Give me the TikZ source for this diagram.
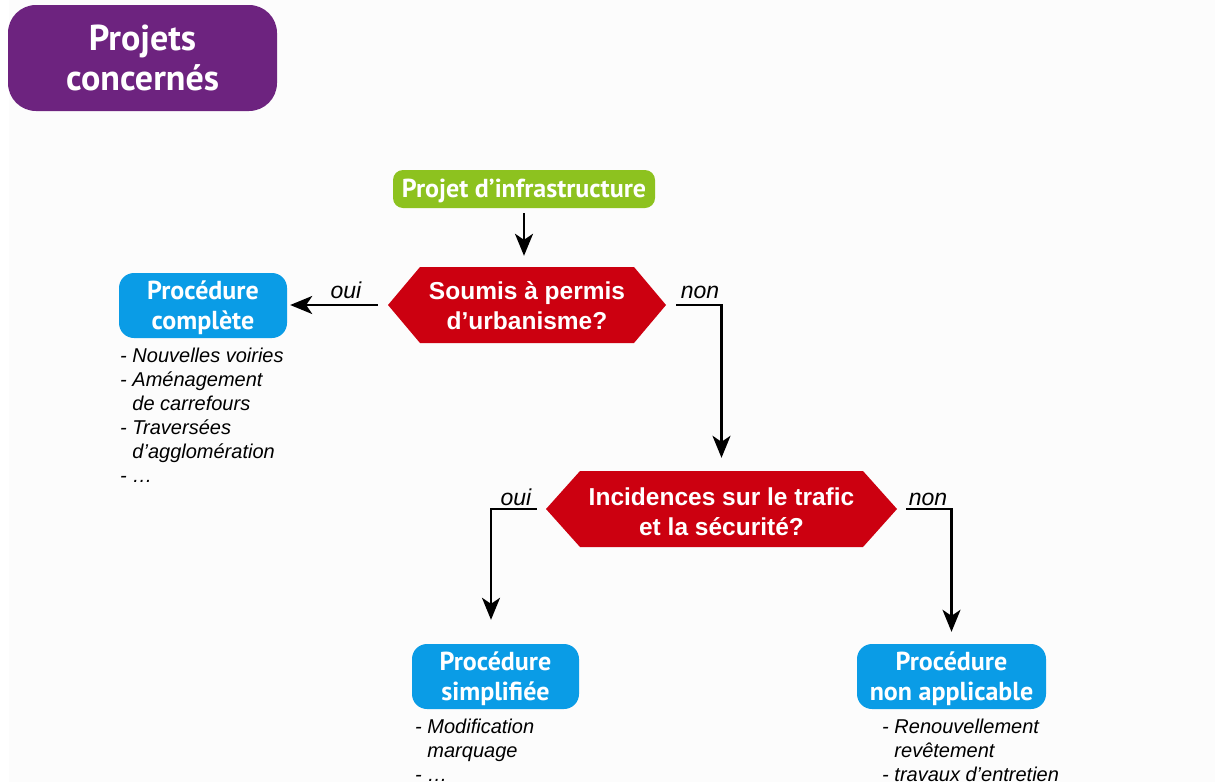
\documentclass[tikz,border=0pt]{standalone}
\usepackage{fontspec}
\setmainfont{Liberation Sans}
\newfontfamily\titlefont{PT Sans}
\usetikzlibrary{arrows.meta,backgrounds,calc}

\definecolor{purplebox}{HTML}{6D237F}
\definecolor{greenbox}{HTML}{8DC21F}
\definecolor{bluebox}{HTML}{0A9CE6}
\definecolor{redhex}{HTML}{CC0010}
\definecolor{paper}{HTML}{FCFCFC}

% hexagon behind a question node: node, half width, corner inset, half height
\newcommand\hexshape[4]{%
  \fill[redhex] ($(#1.center)+(-#2,0)$) -- ($(#1.center)+(-#2+#3,-#4)$)
    -- ($(#1.center)+(#2-#3,-#4)$) -- ($(#1.center)+(#2,0)$)
    -- ($(#1.center)+(#2-#3,#4)$) -- ($(#1.center)+(-#2+#3,#4)$) -- cycle;}
% lower a block of lines inside its node without changing its size
\newcommand\lowered[2]{\raisebox{-#1}[\height][\depth]{\begin{tabular}{@{}c@{}}#2\end{tabular}}}

\begin{document}
\begin{tikzpicture}[x=1pt,y=-1pt,
  conn/.style={line width=2.2pt, draw=black},
  arr/.style={conn, -{Stealth[length=22pt,width=18pt,inset=6pt]}},
  lbl/.style={inner sep=0pt, anchor=base, font=\itshape\fontsize{23}{26}\selectfont},
  roundbox/.style={inner sep=0pt, align=center, text=white,
    font=\titlefont\bfseries\fontsize{26}{30}\selectfont},
  titlebox/.style={roundbox, fill=purplebox, rounded corners=28pt,
    minimum width=269pt, minimum height=106pt,
    font=\titlefont\bfseries\fontsize{36}{40}\selectfont},
  startbox/.style={roundbox, fill=greenbox, rounded corners=10pt,
    minimum width=262pt, minimum height=38pt,
    font=\titlefont\bfseries\fontsize{26}{28}\selectfont},
  procbox/.style={roundbox, fill=bluebox, rounded corners=15pt, minimum height=65pt},
  question/.style={inner sep=0pt, align=center, text=white, minimum height=76pt,
    font=\bfseries\fontsize{24.5}{30}\selectfont},
  itemlist/.style={inner sep=0pt, anchor=base west,
    font=\itshape\fontsize{20}{24}\selectfont},
]
\useasboundingbox (0,0) rectangle (1215,782);

% title and start
\node[titlebox] (title) at (142.5,58) {Projets\\concernés};
\node[startbox] (start) at (524,189) {\lowered{3pt}{Projet d’infrastructure}};

% first question and its outcome
\node[question, minimum width=298pt] (q1) at (527,305) {\lowered{3pt}{Soumis à permis\\d’urbanisme?}};
\node[procbox, minimum width=168pt] (full) at (203,305.5) {\lowered{3pt}{Procédure\\complète}};

% second question and its outcomes
\node[question, minimum width=369pt] (q2) at (721.5,509) {\lowered{5pt}{Incidences sur le trafic\\et la sécurité?}};
\node[procbox, minimum width=167pt] (simple) at (495.5,676.5) {\lowered{3pt}{Procédure\\simplifiée}};
\node[procbox, minimum width=189pt] (none) at (951.5,676.5) {\lowered{3pt}{Procédure\\non applicable}};

% examples under each procedure
\node[itemlist] (fulllist) at (120,362) {\begin{tabular}[t]{@{}l@{\hspace{.28em}}l@{}}
  - & Nouvelles voiries\\
  - & Aménagement\\
    & de carrefours\\
  - & Traversées\\
    & d’agglomération\\
  - & …\end{tabular}};
\node[itemlist] (simplelist) at (415,733) {\begin{tabular}[t]{@{}l@{\hspace{.28em}}l@{}}
  - & Modification\\
    & marquage\\
  - & …\end{tabular}};
\node[itemlist] (nonelist) at (882,733) {\begin{tabular}[t]{@{}l@{\hspace{.28em}}l@{}}
  - & Renouvellement\\
    & revêtement\\
  - & travaux d’entretien\end{tabular}};

% connectors
\draw[arr] ([yshift=-5pt]start.south) -- ([yshift=11pt]start.south |- q1.north);
\draw[arr, shorten >=3pt] (q1.west) -- (q1.west -| full.east);
\draw[arr] (q1.east) -| ([yshift=13pt]q2.north);
\draw[arr] (q2.west) -| ([xshift=-4.5pt,yshift=24pt]simple.north);
\draw[arr] (q2.east) -| ([yshift=12pt]none.north);

% branch labels
\node[lbl] (q1yes) at (346,298) {oui};
\node[lbl] (q1no) at (700,298) {non};
\node[lbl] (q2yes) at (516,505) {oui};
\node[lbl] (q2no) at (928,505) {non};

% paper and hexagons behind the text
\begin{pgfonlayer}{background}
  \fill[white] (0,0) rectangle (1215,782);
  \fill[paper] (9,0) rectangle (1215,782);
  \hexshape{q1}{139}{32}{38}
  \hexshape{q2}{175.5}{34}{38}
\end{pgfonlayer}
\end{tikzpicture}
\end{document}
